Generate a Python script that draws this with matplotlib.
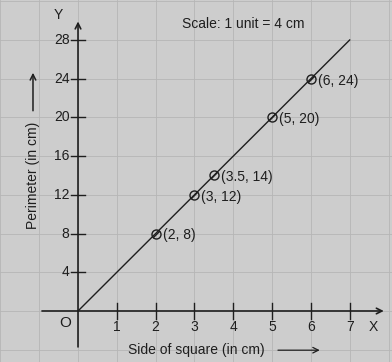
import matplotlib
matplotlib.use('Agg')
import matplotlib.pyplot as plt

# Side of square (cm) and perimeter (cm)
side = [2, 3, 3.5, 5, 6]
perimeter = [8, 12, 14, 20, 24]
point_labels = ['(2, 8)', '(3, 12)', '(3.5, 14)', '(5, 20)', '(6, 24)']
line_x = [0, 7]
line_y = [0, 28]
x_ticks = [1, 2, 3, 4, 5, 6, 7]
y_ticks = [4, 8, 12, 16, 20, 24, 28]

plt.rcParams['font.family'] = ['Liberation Sans', 'DejaVu Sans']

fig = plt.figure(figsize=(3.92, 3.62), dpi=100, facecolor='#cdcdcd')
ax = fig.add_axes([0, 0, 1, 1])
ax.set_facecolor('#cdcdcd')
ax.set_xlim(-2.01, 8.09)
ax.set_ylim(-5.27, 32.13)
ax.axis('off')

ink = '#1e1e1e'
fs = 10

# faint graph paper lines
for x in range(-2, 9):
    ax.axvline(x, color='#b6b6b6', lw=0.6, zorder=0)
for y in range(-4, 33, 4):
    ax.axhline(y, color='#b6b6b6', lw=0.6, zorder=0)

# axes with arrows
ax.annotate('', xy=(7.95, 0), xytext=(-1.0, 0),
            arrowprops=dict(arrowstyle='->', color=ink, lw=1.2))
ax.annotate('', xy=(0, 30.2), xytext=(0, -4.0),
            arrowprops=dict(arrowstyle='->', color=ink, lw=1.2))

# tick marks and labels
for x in x_ticks:
    ax.plot([x, x], [-0.8, 0.8], color=ink, lw=1)
    ax.text(x, -1.7, str(x), ha='center', va='center', fontsize=fs, color=ink)
for y in y_ticks:
    ax.plot([-0.18, 0.18], [y, y], color=ink, lw=1)
    ax.text(-0.22, y, str(y), ha='right', va='center', fontsize=fs, color=ink)

ax.text(-0.33, -1.2, 'O', ha='center', va='center', fontsize=fs + 1, color=ink)
ax.text(-0.52, 30.6, 'Y', ha='center', va='center', fontsize=fs, color=ink)
ax.text(7.6, -1.7, 'X', ha='center', va='center', fontsize=fs, color=ink)

# the line P = 4s
ax.plot(line_x, line_y, color=ink, lw=1)
ax.plot(side, perimeter, linestyle='none', marker='o', fillstyle='none',
        markersize=6.5, markeredgewidth=1.0, color=ink)
ax.plot(side, perimeter, linestyle='none', marker=[(-1, -1), (1, 1)],
        markersize=5, markeredgewidth=1.0, color=ink)
for sx, py, lab in zip(side, perimeter, point_labels):
    ax.text(sx + 0.18, py - 0.2, lab, ha='left', va='center', fontsize=fs, color=ink)

ax.text(2.68, 29.6, 'Scale: 1 unit = 4 cm', ha='left', va='center',
        fontsize=fs, color=ink)

# axis titles with arrows
ax.text(1.29, -4.05, 'Side of square (in cm)', ha='left', va='center',
        fontsize=fs, color=ink)
ax.annotate('', xy=(6.3, -4.05), xytext=(5.08, -4.05),
            arrowprops=dict(arrowstyle='->', color=ink, lw=0.9))
ax.text(-1.16, 14.0, 'Perimeter (in cm)', ha='center', va='center',
        rotation=90, fontsize=fs, color=ink)
ax.annotate('', xy=(-1.16, 24.9), xytext=(-1.16, 20.4),
            arrowprops=dict(arrowstyle='->', color=ink, lw=1.1))

fig.savefig('out.png', dpi=100, facecolor=fig.get_facecolor())
